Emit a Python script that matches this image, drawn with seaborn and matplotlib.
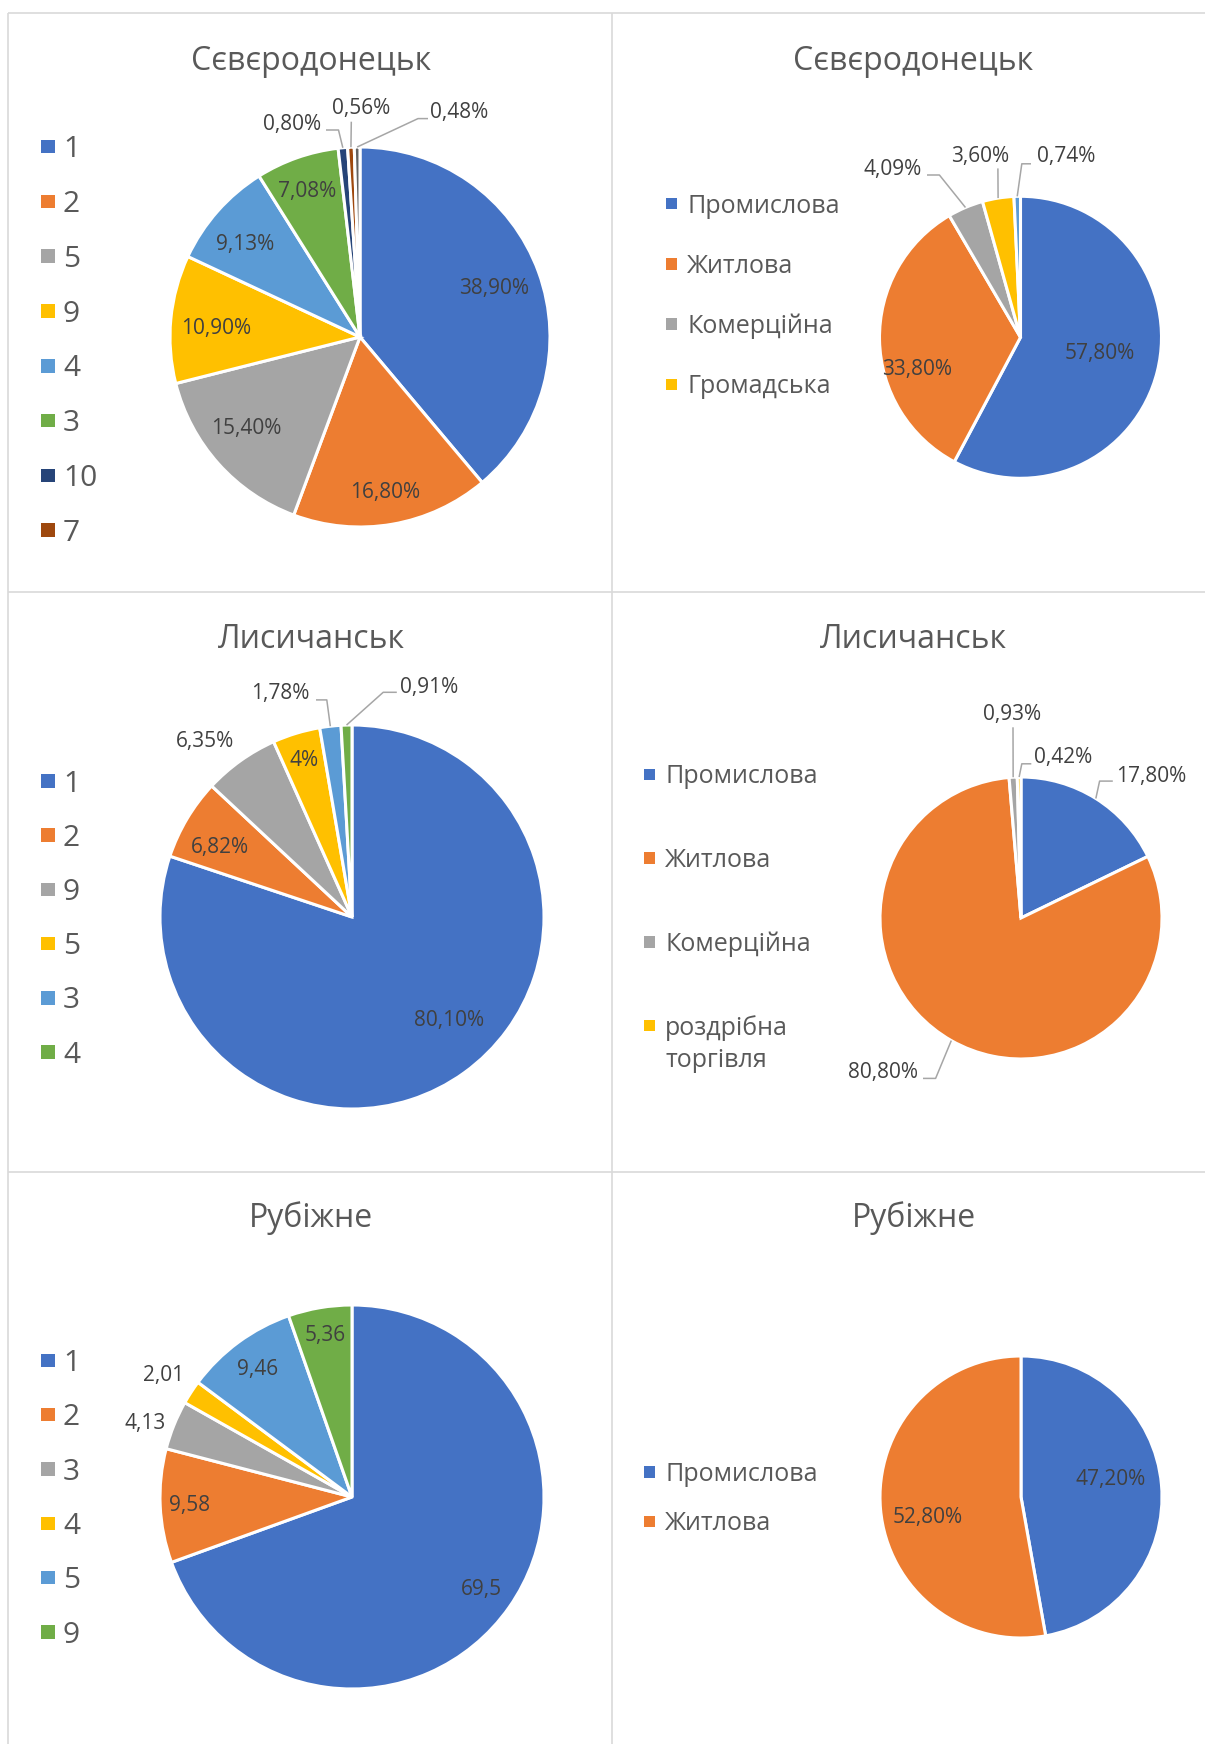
import matplotlib
matplotlib.use("Agg")
import numpy as np
import matplotlib.pyplot as plt
import seaborn as sns

# ---- data -------------------------------------------------------------
sev_cat = ["1", "2", "5", "9", "4", "3", "10", "7", "6"]
sev_val = [38.90, 16.80, 15.40, 10.90, 9.13, 7.08, 0.80, 0.56, 0.48]

sev_use_cat = ["Промислова", "Житлова", "Комерційна", "Громадська", "Інша"]
sev_use_val = [57.80, 33.80, 4.09, 3.60, 0.74]

lys_cat = ["1", "2", "9", "5", "3", "4"]
lys_val = [80.10, 6.82, 6.35, 4.00, 1.78, 0.91]

lys_use_cat = ["Промислова", "Житлова", "Комерційна", "роздрібна\nторгівля"]
lys_use_val = [17.80, 80.80, 0.93, 0.42]

rub_cat = ["1", "2", "3", "4", "5", "9"]
rub_val = [69.5, 9.58, 4.13, 2.01, 9.46, 5.36]

rub_use_cat = ["Промислова", "Житлова"]
rub_use_val = [47.20, 52.80]

titles = ["Сєвєродонецьк", "Сєвєродонецьк", "Лисичанськ", "Лисичанськ", "Рубіжне", "Рубіжне"]


# ---- label formats ----------------------------------------------------
def fmt_pct2(v):
    return f"{v:.2f}%".replace(".", ",")


def fmt_pct_short(v):
    s = f"{v:.0f}%" if v == round(v) else f"{v:.2f}%"
    return s.replace(".", ",")


def fmt_plain(v):
    return f"{v:g}".replace(".", ",")


# ---- style ------------------------------------------------------------
sns.set_theme(style="white")
plt.rcParams["font.family"] = ["Open Sans", "DejaVu Sans"]

office = sns.color_palette(["#4472C4", "#ED7D31", "#A5A5A5", "#FFC000", "#5B9BD5",
                            "#70AD47", "#264478", "#9E480E", "#636363"])
TITLE_C = "#595959"
LEGEND_C = "#595959"
LABEL_C = "#404040"
LEADER_C = "#A6A6A6"
BORDER_C = "#D9D9D9"

W, H, DPI = 1205, 1744, 100

# ---- panel layout (pixel offsets from each pie centre, y downward) ------
panels = [
    dict(title=titles[0], cats=sev_cat, vals=sev_val, fmt=fmt_pct2,
         center=(360, 337), radius=190, title_xy=(311, 59),
         legend=dict(x=41, y0=146.6, step=54.8, box=13.5, tx=63, size=21.5, n=8),
         labels=[(134, -50), (25, 153.6), (-114, 89.7), (-144, -10), (-115, -94),
                 (-53, -147), (-68, -214.5), (1, -230), (99, -226)],
         leaders={6: [(-34, -207), (-21.5, -207)], 7: [(-8.7, -215.3)],
                  8: [(68, -218.4), (58, -218.4)]}),
    dict(title=titles[1], cats=sev_use_cat, vals=sev_use_val, fmt=fmt_pct2,
         center=(1020.5, 337.3), radius=141, title_xy=(913.6, 59),
         legend=dict(x=666, y0=203.6, step=60.3, box=11.4, tx=687, size=18, n=4),
         labels=[(79, 14), (-103, 30.7), (-127.8, -169.7), (-40.5, -182.3), (46, -182.3)],
         leaders={2: [(-93.5, -162.3), (-81.1, -162.3)], 3: [(-22.6, -168.9)],
                  4: [(10.5, -173.5), (1.3, -173.5)]}),
    dict(title=titles[2], cats=lys_cat, vals=lys_val, fmt=fmt_pct_short,
         center=(352, 917), radius=192, title_xy=(311, 637),
         legend=dict(x=41, y0=781, step=54.2, box=13.5, tx=63, size=21.5, n=6),
         labels=[(97.3, 102), (-132.2, -71.1), (-146.6, -177.2), (-47.8, -158.8),
                 (-72, -225.4), (77, -231)],
         leaders={4: [(-36, -217.1), (-25.2, -217.1)], 5: [(44.8, -224.7), (31.2, -224.7)]}),
    dict(title=titles[3], cats=lys_use_cat, vals=lys_use_val, fmt=fmt_pct2,
         center=(1021, 918), radius=141, title_xy=(913.6, 637),
         legend=dict(x=644, y0=774.4, step=83.8, box=11.4, tx=665, size=18, n=4),
         labels=[(129.8, -143.6), (-137.8, 152.9), (-8.7, -205.7), (42.5, -162.4)],
         leaders={0: [(91.8, -136.9), (78.6, -136.9)], 1: [(-98, 160.4), (-85.4, 160.4)],
                  2: [(-8, -190.7)], 3: [(10.3, -154.2), (0.8, -154.2)]}),
    dict(title=titles[4], cats=rub_cat, vals=rub_val, fmt=fmt_plain,
         center=(352, 1497), radius=192, title_xy=(311, 1216),
         legend=dict(x=41, y0=1360.4, step=54.3, box=13.5, tx=63, size=21.5, n=6),
         labels=[(129.2, 90.3), (-162.5, 6.9), (-207.3, -75.1), (-188.6, -123.8),
                 (-94.5, -129.3), (-27.2, -163.4)],
         leaders={}),
    dict(title=titles[5], cats=rub_use_cat, vals=rub_use_val, fmt=fmt_pct2,
         center=(1021, 1497), radius=141, title_xy=(913.6, 1216),
         legend=dict(x=644, y0=1472, step=49.4, box=11.4, tx=665, size=18, n=2),
         labels=[(89.2, -19.5), (-93, 19)],
         leaders={}),
]

TITLE_SIZE = 23
LABEL_SIZE = 15

fig = plt.figure(figsize=(W / DPI, H / DPI), dpi=DPI)
ax = fig.add_axes([0, 0, 1, 1])


def Y(y):
    return H - y


def put_text(x, y, s, size, color, ha="center"):
    # y is the vertical centre of the capital letters, in image pixels
    em = size * DPI / 72.0
    ax.text(x, Y(y + 0.357 * em), s, fontsize=size, color=color,
            ha=ha, va="baseline", zorder=6)


# panel frame lines
frame_kw = dict(color=BORDER_C, lw=1.2, zorder=1, solid_capstyle="butt")
ax.plot([8, W], [Y(13), Y(13)], **frame_kw)
ax.plot([8, 8], [Y(13), Y(H)], **frame_kw)
ax.plot([612, 612], [Y(13), Y(H)], **frame_kw)
ax.plot([8, W], [Y(592), Y(592)], **frame_kw)
ax.plot([8, W], [Y(1172), Y(1172)], **frame_kw)

for p in panels:
    cx, cy = p["center"]
    R = p["radius"]
    vals = p["vals"]
    n = len(vals)
    wedges, _ = ax.pie(vals, colors=office[:n], startangle=90, counterclock=False,
                       center=(cx, Y(cy)), radius=R, normalize=True,
                       wedgeprops=dict(edgecolor="white", linewidth=2.2))
    for w in wedges:
        w.set_zorder(3)

    # title
    tx, ty = p["title_xy"]
    put_text(tx, ty, p["title"], TITLE_SIZE, TITLE_C)

    # value labels
    for i, (v, (dx, dy)) in enumerate(zip(vals, p["labels"])):
        put_text(cx + dx, cy + dy, p["fmt"](v), LABEL_SIZE, LABEL_C)

    # leader lines from label to the wedge edge
    for i, pts in p["leaders"].items():
        w = wedges[i]
        mid = np.deg2rad((w.theta1 + w.theta2) / 2.0)
        ex, ey = cx + R * np.cos(mid), cy - R * np.sin(mid)
        xs = [cx + dx for dx, dy in pts] + [ex]
        ys = [Y(cy + dy) for dx, dy in pts] + [Y(ey)]
        ax.plot(xs, ys, color=LEADER_C, lw=1.1, zorder=4, solid_capstyle="butt")

    # legend
    lg = p["legend"]
    for i in range(lg["n"]):
        yc = lg["y0"] + i * lg["step"]
        b = lg["box"]
        ax.add_patch(plt.Rectangle((lg["x"], Y(yc + b / 2)), b, b,
                                   facecolor=office[i], edgecolor="none", zorder=5))
        lines = p["cats"][i].split("\n")
        em = lg["size"] * DPI / 72.0
        for k, line in enumerate(lines):
            put_text(lg["tx"], yc + k * 1.3 * em, line, lg["size"], LEGEND_C, ha="left")

ax.set_xlim(0, W)
ax.set_ylim(0, H)
ax.set_aspect("equal")
ax.axis("off")

fig.savefig("out.png", dpi=DPI, facecolor="white")
